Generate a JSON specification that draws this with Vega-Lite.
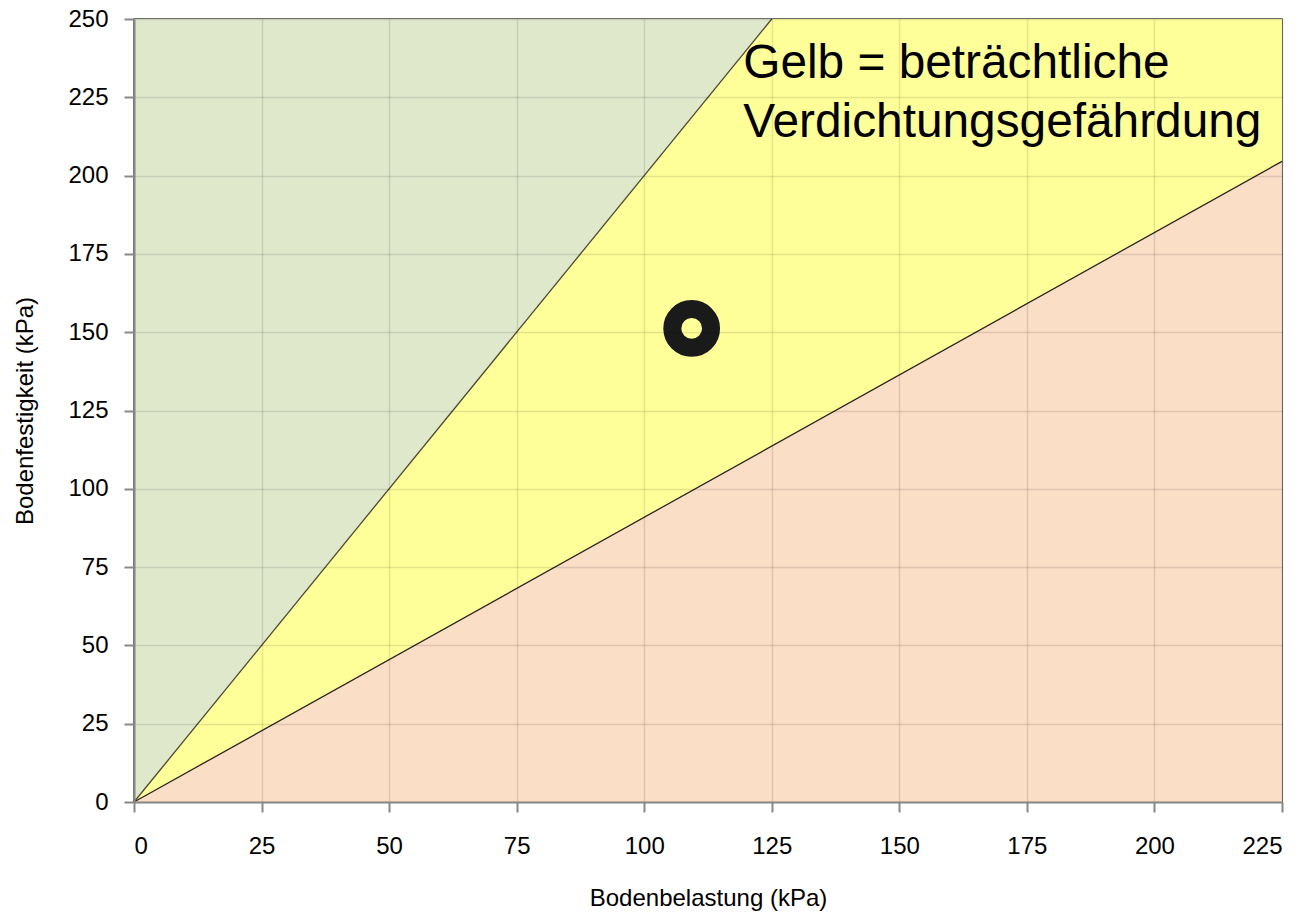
{
  "$schema": "https://vega.github.io/schema/vega-lite/v6.json",
  "width": 1148,
  "height": 783,
  "autosize": {"type": "none"},
  "padding": {"left": 134, "top": 19, "right": 26, "bottom": 116},
  "background": "white",
  "config": {
    "view": {"stroke": "#444444", "strokeWidth": 1.5},
    "axis": {
      "grid": true,
      "gridColor": "#000000",
      "gridOpacity": 0.11,
      "gridWidth": 1.5,
      "domainColor": "#888888",
      "domainWidth": 2,
      "tickColor": "#888888",
      "tickWidth": 2,
      "tickSize": 10,
      "labelFont": "Liberation Sans",
      "labelFontSize": 24,
      "labelColor": "#000000",
      "titleFont": "Liberation Sans",
      "titleFontSize": 24,
      "titleFontWeight": "normal",
      "titleColor": "#000000"
    }
  },
  "datasets": {
    "regions": [
      {"region": "gruen", "x": 0, "lo": 0, "hi": 250},
      {"region": "gruen", "x": 125, "lo": 250, "hi": 250},
      {"region": "gelb", "x": 0, "lo": 0, "hi": 0},
      {"region": "gelb", "x": 125, "lo": 113.64, "hi": 250},
      {"region": "gelb", "x": 225, "lo": 204.55, "hi": 250},
      {"region": "rot", "x": 0, "lo": 0, "hi": 0},
      {"region": "rot", "x": 225, "lo": 0, "hi": 204.55}
    ],
    "upper": [
      {"x": 0, "y": 0},
      {"x": 125, "y": 250}
    ],
    "lower": [
      {"x": 0, "y": 0},
      {"x": 225, "y": 204.55}
    ],
    "punkt": [
      {"x": 109.3, "y": 151.2}
    ],
    "label": [
      {"x": 119.4, "y": 231.2, "t": "Gelb = beträchtliche"},
      {"x": 119.4, "y": 212.4, "t": "Verdichtungsgefährdung"}
    ]
  },
  "layer": [
    {
      "data": {"name": "regions"},
      "mark": {"type": "area", "opacity": 1},
      "encoding": {
        "x": {
          "field": "x", "type": "quantitative",
          "scale": {"domain": [0, 225], "nice": false},
          "axis": {"zindex": 1, "values": [0, 25, 50, 75, 100, 125, 150, 175, 200, 225], "title": "Bodenbelastung (kPa)", "labelPadding": 22, "titlePadding": 28}
        },
        "y": {
          "field": "lo", "type": "quantitative",
          "scale": {"domain": [0, 250], "nice": false},
          "axis": {"zindex": 1, "values": [0, 25, 50, 75, 100, 125, 150, 175, 200, 225, 250], "title": "Bodenfestigkeit (kPa)", "labelPadding": 16, "titlePadding": 30}
        },
        "y2": {"field": "hi"},
        "color": {
          "field": "region", "type": "nominal",
          "scale": {"domain": ["gruen", "gelb", "rot"], "range": ["#e0e8cc", "#ffff99", "#fadec6"]},
          "legend": null
        }
      }
    },
    {
      "data": {"name": "upper"},
      "mark": {"type": "line", "color": "#4a4a30", "strokeWidth": 1.3},
      "encoding": {
        "x": {"field": "x", "type": "quantitative"},
        "y": {"field": "y", "type": "quantitative"}
      }
    },
    {
      "data": {"name": "lower"},
      "mark": {"type": "line", "color": "#2a2420", "strokeWidth": 1.3},
      "encoding": {
        "x": {"field": "x", "type": "quantitative"},
        "y": {"field": "y", "type": "quantitative"}
      }
    },
    {
      "data": {"name": "punkt"},
      "mark": {"type": "point", "shape": "circle", "filled": false, "stroke": "#1a1a1a", "strokeWidth": 18, "size": 1500, "opacity": 1},
      "encoding": {
        "x": {"field": "x", "type": "quantitative"},
        "y": {"field": "y", "type": "quantitative"}
      }
    },
    {
      "data": {"name": "label"},
      "mark": {"type": "text", "align": "left", "baseline": "alphabetic", "font": "Liberation Sans", "fontSize": 47.8, "color": "#000000"},
      "encoding": {
        "x": {"field": "x", "type": "quantitative"},
        "y": {"field": "y", "type": "quantitative"},
        "text": {"field": "t"}
      }
    }
  ]
}
